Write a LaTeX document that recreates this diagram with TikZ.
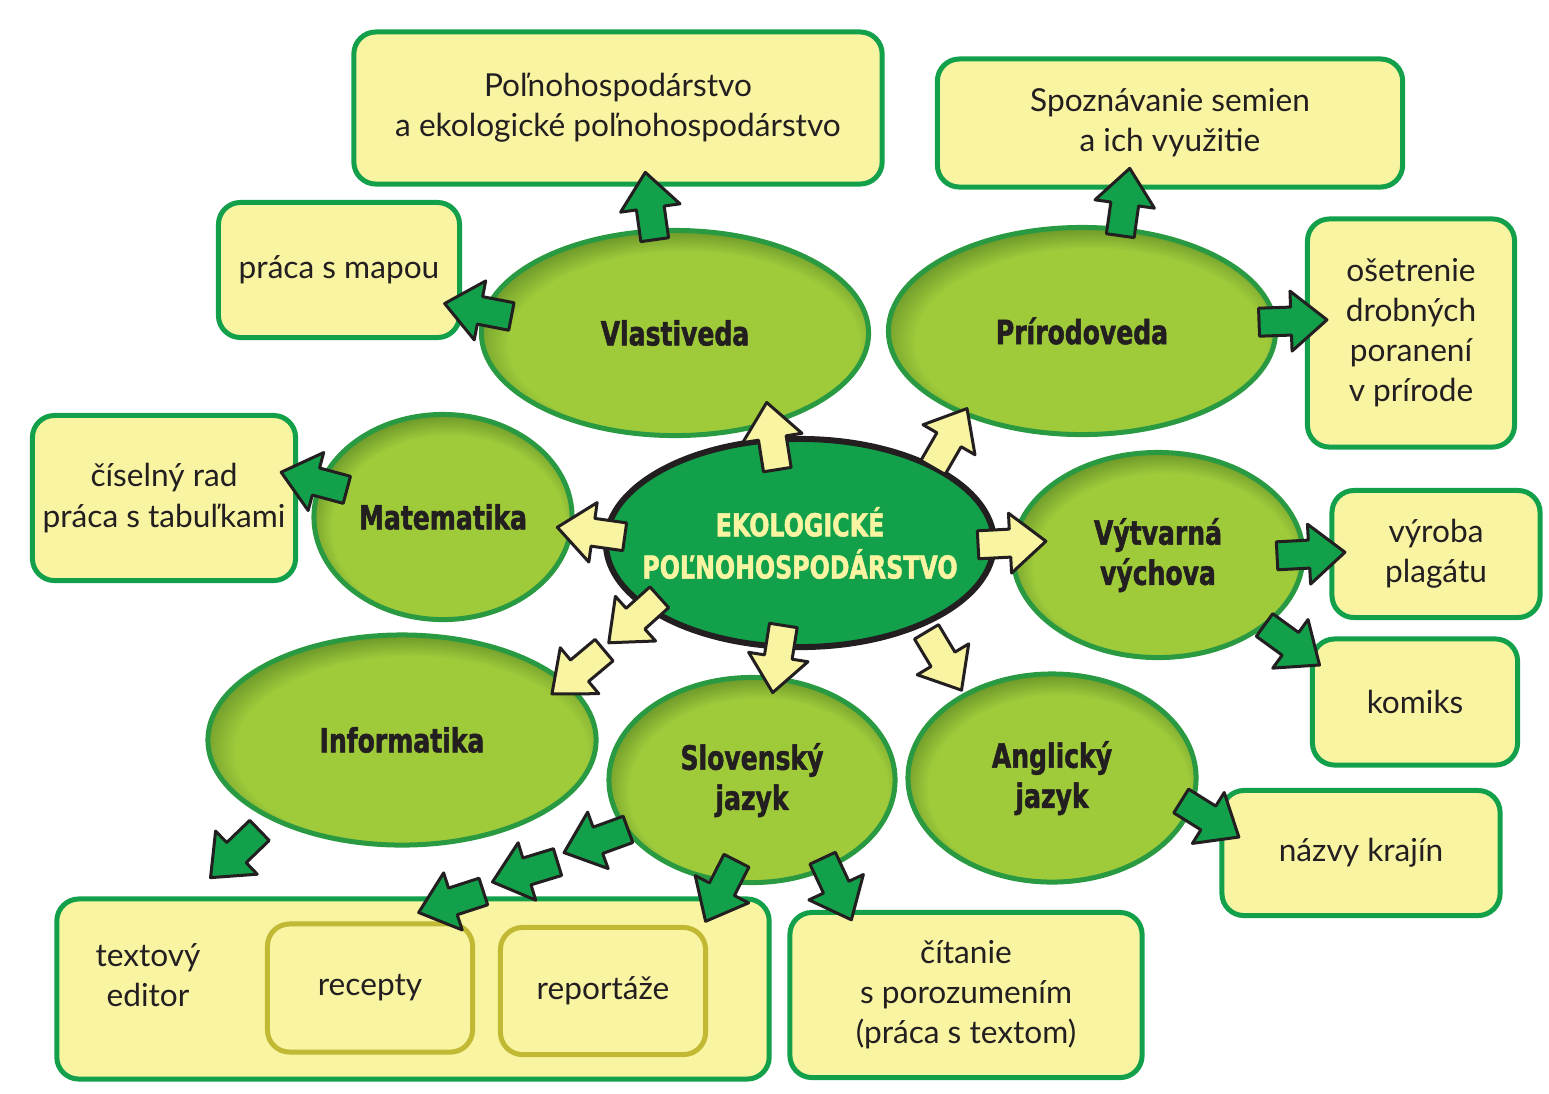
\documentclass[tikz,border=0pt]{standalone}
\usepackage{fontspec}
\setmainfont{Lato}
\newfontfamily\headfont{DejaVu Sans}[FakeStretch=0.75, BoldFeatures={FakeBold=1.5}]
\usepackage{tikz}
\usetikzlibrary{shapes.geometric}
\definecolor{boxfill}{HTML}{F9F4A2}
\definecolor{boxline}{HTML}{13A04A}
\definecolor{subline}{HTML}{C1B933}
\definecolor{ellfill}{HTML}{9FCB3B}
\definecolor{elldark}{HTML}{45701C}
\definecolor{ellline}{HTML}{2A9A42}
\definecolor{midfill}{HTML}{12A14A}
\definecolor{ink}{HTML}{231F20}
\definecolor{cream}{HTML}{F9F4A1}
\pgfdeclareradialshading{ellshade}{\pgfpoint{2bp}{-5bp}}{color(0bp)=(ellfill); color(22.5bp)=(ellfill); color(31bp)=(elldark); color(50bp)=(elldark)}
\tikzset{
  box/.style={draw=boxline, fill=boxfill, line width=0.05cm, rounded corners=0.22cm, align=center, text=ink, inner sep=0pt, font=\fontsize{9}{11.4}\selectfont},
  subbox/.style={box, draw=subline},
  subj/.style={ellipse, shading=ellshade, draw=ellline, line width=0.05cm, inner sep=0pt, align=center, text=ink, font=\headfont\bfseries\fontsize{9.5}{11.4}\selectfont},
  core/.style={ellipse, fill=midfill, draw=ink, line width=0.06cm, inner sep=0pt},
  coretext/.style={align=center, text=cream, font=\headfont\bfseries\fontsize{9}{12}\selectfont},
  arrowline/.style={draw=ink, line width=0.03cm, line join=round},
  pics/fatarrow/.style={code={\draw[arrowline, fill=#1] (-34,-14) -- (-2,-14) -- (-2,-30) -- (34,0) -- (-2,30) -- (-2,14) -- (-34,14) -- cycle;}},
}
\begin{document}
\begin{tikzpicture}[x=0.01cm, y=-0.01cm]
  \useasboundingbox[fill=white] (0,0) rectangle (1549,1093);
  % topic boxes
  \node[box, minimum width=5.28cm, minimum height=1.52cm] (farm) at (618,108) {Poľnohospodárstvo\\a ekologické poľnohospodárstvo};
  \node[box, minimum width=4.65cm, minimum height=1.28cm] (seeds) at (1170,123) {Spoznávanie semien\\a ich využitie};
  \node[box, minimum width=2.41cm, minimum height=1.35cm] (map) at (339,270) {práca s mapou};
  \node[box, minimum width=2.07cm, minimum height=2.28cm] (care) at (1411,333) {ošetrenie\\drobných\\poranení\\v prírode};
  \node[box, minimum width=2.63cm, minimum height=1.65cm] (numbers) at (164,498) {číselný rad\\práca s tabuľkami};
  \node[box, minimum width=2.08cm, minimum height=1.27cm] (poster) at (1436,554) {výroba\\plagátu};
  \node[box, minimum width=2.05cm, minimum height=1.26cm] (comic) at (1415,702) {komiks};
  \node[box, minimum width=2.78cm, minimum height=1.25cm] (lands) at (1361,853) {názvy krajín};
  \node[box, minimum width=7.12cm, minimum height=1.80cm] (editor) at (413,989) {};
  \node[text=ink, align=center, font=\fontsize{9}{11.4}\selectfont] (editortext) at (148,975) {textový\\editor};
  \node[subbox, minimum width=2.05cm, minimum height=1.28cm] (recipes) at (370,988) {recepty};
  \node[subbox, minimum width=2.05cm, minimum height=1.27cm] (reports) at (603,991) {reportáže};
  \node[box, minimum width=3.52cm, minimum height=1.65cm] (reading) at (966,995) {čítanie\\s porozumením\\(práca s textom)};
  % subjects
  \node[subj, minimum width=3.87cm, minimum height=2.05cm] (vlast) at (675,333) {Vlastiveda};
  \node[subj, minimum width=3.87cm, minimum height=2.07cm] (prir) at (1082,331) {Prírodoveda};
  \node[subj, minimum width=2.58cm, minimum height=2.05cm] (mat) at (443,517) {Matematika};
  \node[subj, minimum width=2.90cm, minimum height=2.05cm] (vyt) at (1158,555) {Výtvarná\\výchova};
  \node[subj, minimum width=3.88cm, minimum height=2.10cm] (inf) at (402,740) {Informatika};
  \node[subj, minimum width=2.86cm, minimum height=2.05cm] (svk) at (752,780) {Slovenský\\jazyk};
  \node[subj, minimum width=2.88cm, minimum height=2.08cm] (ang) at (1052,778) {Anglický\\jazyk};
  \node[core, minimum width=3.88cm, minimum height=2.08cm] (eko) at (800,543) {};
  \node[coretext] (ekotext) at (eko) {EKOLOGICKÉ\\POĽNOHOSPODÁRSTVO};
  % arrows out of the centre
  \foreach \x/\y/\a in {772/436/99, 950/438/60, 591/532/172, 1012/543/3, 634/620/-138, 578/672/-140, 778/659/-99, 944/661/-59}
    \pic[rotate=\a] at (\x,\y) {fatarrow=cream};
  % arrows to the topics
  \foreach \x/\y/\a in {650/206/98, 478/310/169, 1125/202/82, 1293/321/2, 314/481/165, 1311/554/3, 1292/645/-36, 1210/819/-32, 235/854/-136, 596/841/-160, 525/872/-163, 451/902/-162, 721/891/-117, 837/889/-65}
    \pic[rotate=\a] at (\x,\y) {fatarrow=midfill};
\end{tikzpicture}
\end{document}
